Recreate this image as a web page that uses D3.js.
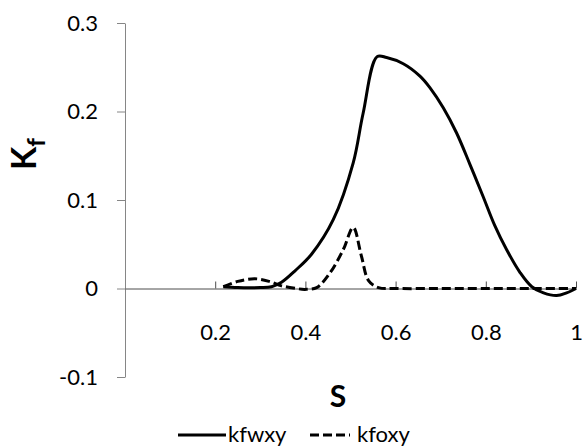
<!DOCTYPE html>
<html>
<head>
<meta charset="utf-8">
<script src="https://cdn.jsdelivr.net/npm/d3@7"></script>
<style>
  html, body { margin: 0; padding: 0; background: #fff; }
  svg { display: block; }
  text { font-family: Lato, "Open Sans", "Liberation Sans", sans-serif; fill: #000; }
</style>
</head>
<body>
<svg id="chart" width="584" height="448"></svg>
<script>
// Saturation S (x) against fractional flow Kf (y) for the two curves
const kfwxyS = [0.218, 0.25, 0.30, 0.325, 0.347, 0.377, 0.414, 0.462, 0.506, 0.528, 0.559, 0.580, 0.617, 0.654, 0.676, 0.706, 0.735, 0.765, 0.794, 0.820, 0.846, 0.876, 0.902, 0.928, 0.957, 0.979, 1.0];
const kfwxyK = [0.002, 0.001, 0.001, 0.002, 0.007, 0.020, 0.039, 0.078, 0.142, 0.198, 0.262, 0.261, 0.254, 0.240, 0.227, 0.204, 0.176, 0.140, 0.104, 0.071, 0.044, 0.018, 0.002, -0.005, -0.008, -0.005, 0.000];

const kfoxyS = [0.218, 0.25, 0.288, 0.32, 0.347, 0.38, 0.399, 0.425, 0.455, 0.484, 0.506, 0.524, 0.540, 0.562, 0.6, 0.7, 0.8, 0.9, 1.0];
const kfoxyK = [0.002, 0.008, 0.011, 0.008, 0.003, 0.000, -0.001, 0.001, 0.018, 0.044, 0.069, 0.037, 0.009, 0.001, 0, 0, 0, 0, 0];

const xTicks = [0.2, 0.4, 0.6, 0.8, 1];
const xTickLabels = ["0.2", "0.4", "0.6", "0.8", "1"];
const yTicks = [-0.1, 0, 0.1, 0.2, 0.3];
const yTickLabels = ["-0.1", "0", "0.1", "0.2", "0.3"];
const seriesNames = ["kfwxy", "kfoxy"];

const svg = d3.select("#chart");

const x = d3.scaleLinear().domain([0, 1]).range([125, 576]);
const y = d3.scaleLinear().domain([-0.1, 0.3]).range([377, 23]);

// Y axis (left, gray)
const yAxis = svg.append("g")
  .attr("transform", `translate(${x(0)},0)`)
  .call(d3.axisLeft(y)
    .tickValues(yTicks)
    .tickFormat((d, i) => yTickLabels[i])
    .tickSizeInner(8)
    .tickSizeOuter(0)
    .tickPadding(19));
yAxis.select(".domain").attr("stroke", "#868686");
yAxis.selectAll(".tick line").attr("stroke", "#868686");
yAxis.selectAll(".tick text")
  .style("font-size", "22px").attr("fill", "#000");

// X axis drawn through zero, ticks pointing up, labels below the plot
const xAxis = svg.append("g")
  .attr("transform", `translate(0,${y(0)})`)
  .call(d3.axisBottom(x)
    .tickValues(xTicks)
    .tickFormat((d, i) => xTickLabels[i])
    .tickSizeInner(-7)
    .tickSizeOuter(0)
    .tickPadding(36));
xAxis.select(".domain").attr("stroke", "#4d4d4d");
xAxis.selectAll(".tick line").attr("stroke", "#4d4d4d");
xAxis.selectAll(".tick text")
  .style("font-size", "22px").attr("fill", "#000");

// Curves
const line = d3.line()
  .x(d => x(d[0]))
  .y(d => y(d[1]))
  .curve(d3.curveCatmullRom.alpha(0.5));

svg.append("path")
  .datum(d3.zip(kfwxyS, kfwxyK))
  .attr("fill", "none")
  .attr("stroke", "#000")
  .attr("stroke-width", 3)
  .attr("d", line);

svg.append("path")
  .datum(d3.zip(kfoxyS, kfoxyK))
  .attr("fill", "none")
  .attr("stroke", "#000")
  .attr("stroke-width", 3)
  .attr("stroke-dasharray", "9,4")
  .attr("d", line);

// Axis titles
svg.append("text")
  .attr("x", 338).attr("y", 407)
  .attr("text-anchor", "middle")
  .style("font-size", "30px").style("font-weight", "bold")
  .text("S");

const yTitle = svg.append("text")
  .attr("transform", "translate(36,170) rotate(-90)")
  .attr("text-anchor", "start")
  .style("font-size", "34px").style("font-weight", "bold");
yTitle.append("tspan").text("K");
yTitle.append("tspan").attr("dy", 9).style("font-size", "24px").text("f");

// Legend
const legend = svg.append("g");
const legendItems = [
  { name: seriesNames[0], x0: 178, x1: 226, tx: 228, dash: null },
  { name: seriesNames[1], x0: 310, x1: 350, tx: 357, dash: "9,4" }
];
legendItems.forEach(it => {
  legend.append("line")
    .attr("x1", it.x0).attr("x2", it.x1)
    .attr("y1", 435).attr("y2", 435)
    .attr("stroke", "#000").attr("stroke-width", 3)
    .attr("stroke-dasharray", it.dash);
  legend.append("text")
    .attr("x", it.tx).attr("y", 442)
    .style("font-size", "22px")
    .text(it.name);
});
</script>
</body>
</html>
